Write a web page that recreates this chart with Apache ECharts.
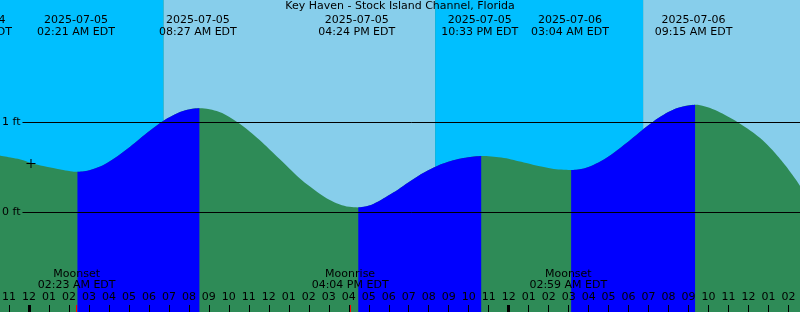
<!DOCTYPE html>
<html><head><meta charset="utf-8">
<script src="https://cdn.jsdelivr.net/npm/echarts@6/dist/echarts.min.js"></script>
<style>html,body{margin:0;padding:0;background:#2E8B57;overflow:hidden;width:800px;height:312px}#c{width:802px;height:312px;margin-left:-1px}</style>
</head><body><div id="c"></div>
<script>
const titleText = 'Key Haven - Stock Island Channel, Florida';
// hours since 2025-07-05 00:00 EDT
const tideHours = [-1.475,-0.925,-0.425,0.075,0.575,1.075,1.575,2.075,2.425,
2.925,3.425,3.925,4.425,4.925,5.425,5.925,6.425,6.925,7.425,7.925,8.525,
9.025,9.525,10.025,10.525,11.025,11.525,12.025,12.525,13.025,13.525,14.025,14.525,15.025,15.525,16.025,16.475,
16.975,17.475,17.975,18.475,18.975,19.475,19.975,20.475,20.975,21.475,21.975,22.625,
23.125,23.625,24.125,24.625,25.125,25.625,26.125,26.625,27.125,
27.625,28.125,28.625,29.125,29.625,30.125,30.625,31.125,31.625,32.125,32.625,33.325,
33.825,34.325,34.825,35.325,35.825,36.325,36.825,37.325,37.825,38.325,38.625];
const tideFeet = [0.633,0.611,0.589,0.552,0.522,0.500,0.478,0.459,0.453,
0.464,0.499,0.553,0.624,0.708,0.797,0.888,0.972,1.046,1.104,1.142,1.159,
1.147,1.116,1.062,0.989,0.904,0.808,0.704,0.596,0.488,0.384,0.294,0.211,0.142,0.093,0.063,0.056,
0.074,0.122,0.189,0.256,0.333,0.406,0.469,0.522,0.563,0.594,0.614,0.628,
0.623,0.610,0.589,0.563,0.537,0.511,0.490,0.477,0.472,
0.483,0.518,0.571,0.642,0.726,0.814,0.906,0.992,1.069,1.130,1.172,1.197,
1.178,1.139,1.083,1.022,0.950,0.872,0.778,0.661,0.528,0.378,0.280];
const eventHours = [-2.775, 2.35, 8.45, 16.4, 22.55, 27.067, 33.25];
const eventDates = ['2025-07-04','2025-07-05','2025-07-05','2025-07-05','2025-07-05','2025-07-06','2025-07-06'];
const eventTimes = ['09:13 PM EDT','02:21 AM EDT','08:27 AM EDT','04:24 PM EDT','10:33 PM EDT','03:04 AM EDT','09:15 AM EDT'];
const moonHours = [2.383, 16.067, 26.983];
const moonNames = ['Moonset','Moonrise','Moonset'];
const moonTimes = ['02:23 AM EDT','04:04 PM EDT','02:59 AM EDT'];
const daySpans = [[6.725, 20.325],[30.725, 44.325]];
const nightSpans = [[-3.675, 6.725],[20.325, 30.725]];
const hourTicks = [];
for (let h = -1; h <= 38; h++) hourTicks.push(h);
const midnightHours = [0, 24];
const levelFeet = [0, 1];
const levelLabels = ['0 ft','1 ft'];
const markHours = [0.1];
const markFeet = [0.544];

const xMin = -1.475, xMax = 38.625;
const yMin = -1.1056, yMax = 2.3611;
const H = 312;
const pxToFt = py => yMax - py / H * (yMax - yMin);
const FONT = 'DejaVu Sans';
const NIGHT = '#00BFFF', DAY = '#87CEEB', FALL = '#2E8B57', RISE = '#0000FF';

// split into monotone segments
const segs = [];
let cur = [[tideHours[0], tideFeet[0]]];
let dir = Math.sign(tideFeet[1] - tideFeet[0]);
for (let i = 1; i < tideHours.length; i++) {
  const p = [tideHours[i], tideFeet[i]];
  cur.push(p);
  if (i < tideHours.length - 1) {
    const nd = Math.sign(tideFeet[i + 1] - tideFeet[i]);
    if (nd !== dir && nd !== 0) { segs.push({dir, pts: cur}); cur = [p]; dir = nd; }
  }
}
segs.push({dir, pts: cur});

const tickLen = 7 / H * (yMax - yMin);
const markLineData = [];
levelFeet.forEach((v, i) => {
  markLineData.push([{name: levelLabels[i], coord: [-0.325, v], lineStyle: {color: '#000', width: 1, type: 'solid'}}, {coord: [xMax, v]}]);
});
midnightHours.forEach(h => {
  markLineData.push([{name: '', coord: [h, yMin], lineStyle: {color: '#000', width: 3, type: 'solid'}}, {coord: [h, yMin + tickLen]}]);
});
moonHours.forEach(h => {
  markLineData.push([{name: '', coord: [h, yMin], lineStyle: {color: '#FF0000', width: 1, type: 'solid'}}, {coord: [h, yMin + tickLen]}]);
});

const skyAreas = daySpans.map(s => [{xAxis: s[0], itemStyle: {color: DAY, opacity: 1}}, {xAxis: s[1]}])
  .concat(nightSpans.map(s => [{xAxis: s[0], itemStyle: {color: NIGHT, opacity: 1}}, {xAxis: s[1]}]));

const txt = {color: '#000', fontSize: 11, fontFamily: FONT, textBorderWidth: 0, textShadowBlur: 0};
const series = [];
series.push({
  type: 'line', z: 2, clip: false, data: tideHours.map((h, i) => [h, tideFeet[i]]),
  smooth: 0.4, showSymbol: false, symbol: 'none', silent: true,
  lineStyle: {width: 0, opacity: 0, color: FALL},
  areaStyle: {color: FALL, opacity: 1, origin: 'start'},
  markArea: {silent: true, itemStyle: {opacity: 1}, data: skyAreas}
});
segs.filter(s => s.dir > 0).forEach(s => {
  series.push({type: 'line', z: 3, clip: false, data: s.pts, smooth: 0.4, showSymbol: false, symbol: 'none', silent: true,
    lineStyle: {width: 0, opacity: 0, color: RISE}, areaStyle: {color: RISE, opacity: 1, origin: 'start'}});
});
series.push({
  type: 'line', z: 8, data: [], silent: true,
  markLine: {silent: true, symbol: ['none', 'none'], animation: false, z: 8,
    lineStyle: {type: 'solid'},
    label: Object.assign({show: true, position: 'start', distance: 2, formatter: p => p.name || ''}, txt),
    data: markLineData}
});
series.push({
  type: 'scatter', z: 9, clip: false, symbolSize: 1, itemStyle: {color: 'rgba(0,0,0,0)', opacity: 1}, silent: true,
  data: eventHours.map(h => [h, pxToFt(26)]),
  label: Object.assign({show: true, position: 'inside', lineHeight: 12.5,
    formatter: p => eventDates[p.dataIndex] + '\n' + eventTimes[p.dataIndex]}, txt)
});
series.push({
  type: 'scatter', z: 9, clip: false, symbolSize: 1, itemStyle: {color: 'rgba(0,0,0,0)', opacity: 1}, silent: true,
  data: moonHours.map(h => [h, pxToFt(279.6)]),
  label: Object.assign({show: true, position: 'inside', lineHeight: 11.5,
    formatter: p => moonNames[p.dataIndex] + '\n' + moonTimes[p.dataIndex]}, txt)
});
series.push({
  type: 'scatter', z: 9, silent: true, symbol: 'path://M4,0h1v9h-1zM0,4h9v1h-9z', symbolSize: 9,
  itemStyle: {color: '#000', opacity: 1}, data: markHours.map((h, i) => [h, markFeet[i]])
});

const chart = echarts.init(document.getElementById('c'), null, {renderer: 'canvas'});
chart.setOption({
  animation: false,
  backgroundColor: FALL,
  title: {text: titleText, left: 'center', top: 1, padding: 0, z: 10, textStyle: {fontSize: 11, fontWeight: 'normal', fontFamily: FONT, color: '#000'}},
  grid: {left: 0, right: 0, top: 0, bottom: 0},
  xAxis: {type: 'value', min: xMin, max: xMax, z: 10,
    axisLine: {show: false, onZero: false}, splitLine: {show: false},
    axisTick: {show: true, inside: true, length: 7, customValues: hourTicks, lineStyle: {color: '#000', width: 1}},
    axisLabel: Object.assign({show: true, inside: true, margin: 9, customValues: hourTicks,
      formatter: v => { const h = ((Math.round(v) % 24) + 24) % 24; const h12 = h % 12 === 0 ? 12 : h % 12; return (h12 < 10 ? '0' : '') + h12; }}, txt)
  },
  yAxis: {type: 'value', min: yMin, max: yMax, show: false,
    axisLine: {show: false}, axisTick: {show: false}, axisLabel: {show: false}, splitLine: {show: false}},
  series
});
</script></body></html>
